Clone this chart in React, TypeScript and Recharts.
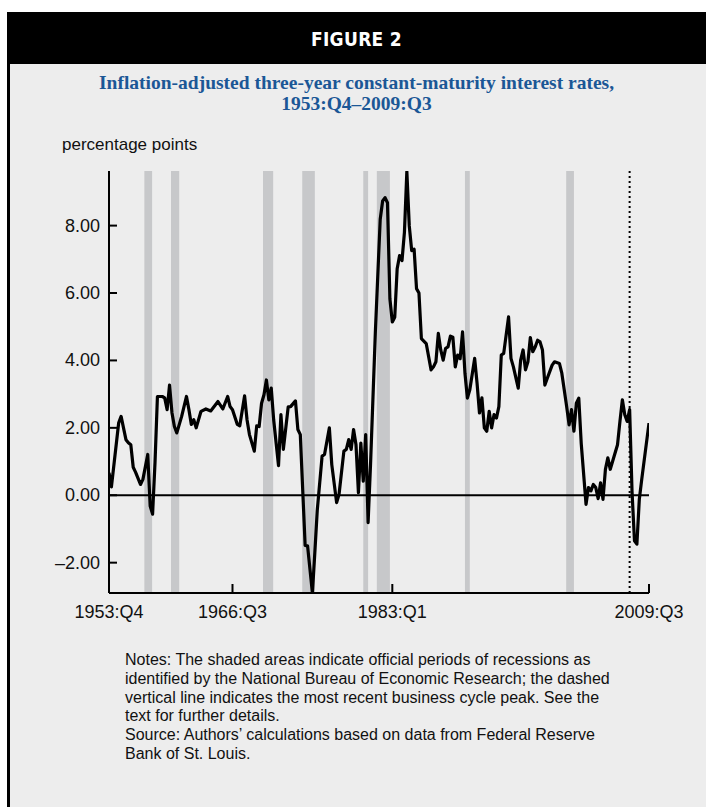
import React from 'react';
import { LineChart, Line, XAxis, YAxis, ReferenceArea, ReferenceLine } from 'recharts';

// Quarterly observations (decimal year: Q1=.00, Q2=.25, Q3=.50, Q4=.75)
const periods = [
  1953.75, 1954.0, 1954.75, 1955.0, 1955.5, 1955.75, 1956.0, 1956.25, 1956.5, 1957.0,
  1957.25, 1957.75, 1958.0, 1958.25, 1958.5, 1958.75, 1959.25, 1959.5, 1959.75, 1960.0,
  1960.25, 1960.5, 1960.75, 1961.25, 1961.75, 1962.0, 1962.25, 1962.5, 1962.75, 1963.25,
  1963.75, 1964.25, 1965.0, 1965.5, 1966.0, 1966.25, 1966.5, 1967.0, 1967.25, 1967.75,
  1968.0, 1968.25, 1968.75, 1969.0, 1969.25, 1969.5, 1969.75, 1970.0, 1970.25, 1970.5,
  1970.75, 1971.25, 1971.5, 1971.75, 1972.25, 1972.5, 1973.0, 1973.25, 1973.5, 1974.0,
  1974.25, 1974.75, 1975.0, 1975.25, 1975.75, 1976.0, 1976.5, 1976.75, 1977.25, 1977.5,
  1978.0, 1978.25, 1978.5, 1978.75, 1979.0, 1979.25, 1979.5, 1979.75, 1980.0, 1980.25,
  1980.5, 1980.75, 1981.25, 1981.75, 1982.0, 1982.25, 1982.5, 1982.75, 1983.0, 1983.25,
  1983.5, 1983.75, 1984.0, 1984.25, 1984.5, 1984.75, 1985.0, 1985.25, 1985.5, 1985.75,
  1986.0, 1986.5, 1987.0, 1987.25, 1987.5, 1987.75, 1988.0, 1988.25, 1988.5, 1988.75,
  1989.0, 1989.25, 1989.5, 1989.75, 1990.0, 1990.25, 1990.5, 1990.75, 1991.0, 1991.5,
  1991.75, 1992.0, 1992.25, 1992.5, 1992.75, 1993.0, 1993.25, 1993.5, 1993.75, 1994.0,
  1994.25, 1994.5, 1995.0, 1995.25, 1995.5, 1996.0, 1996.25, 1996.5, 1996.75, 1997.0,
  1997.25, 1997.5, 1997.75, 1998.0, 1998.25, 1998.5, 1998.75, 1999.0, 1999.5, 1999.75,
  2000.25, 2000.5, 2001.0, 2001.25, 2001.5, 2001.75, 2002.0, 2002.25, 2002.5, 2003.0,
  2003.25, 2003.5, 2003.75, 2004.0, 2004.25, 2004.5, 2004.75, 2005.0, 2005.25, 2005.5,
  2006.25, 2006.5, 2006.75, 2007.0, 2007.25, 2007.5, 2007.75, 2008.0, 2008.25, 2008.5,
  2008.75, 2009.5,
];

// Inflation-adjusted three-year constant-maturity rate, percentage points
const rates = [
  0.67, 0.25, 2.15, 2.34, 1.65, 1.56, 1.5, 0.83, 0.68, 0.32,
  0.47, 1.21, -0.32, -0.56, 0.97, 2.93, 2.93, 2.89, 2.54, 3.27,
  2.45, 2.04, 1.85, 2.34, 2.93, 2.54, 2.1, 2.24, 2.0, 2.49,
  2.56, 2.5, 2.78, 2.56, 2.93, 2.63, 2.54, 2.1, 2.06, 2.95,
  2.24, 1.8, 1.31, 2.06, 2.04, 2.73, 2.98, 3.42, 2.83, 3.18,
  2.24, 0.88, 2.39, 1.36, 2.62, 2.63, 2.8, 1.95, 1.8, -1.49,
  -1.5, -2.9, -1.7, -0.45, 1.16, 1.21, 2.0, 0.91, -0.22, 0.03,
  1.31, 1.36, 1.65, 1.36, 1.95, 1.5, 0.08, 1.55, 0.42, 1.8,
  -0.81, 0.91, 4.85, 8.19, 8.73, 8.83, 8.68, 5.83, 5.14, 5.28,
  6.72, 7.11, 6.96, 7.8, 9.6, 7.99, 7.26, 7.3, 6.13, 6.0,
  4.65, 4.5, 3.72, 3.81, 3.96, 4.8, 4.31, 4.01, 4.36, 4.4,
  4.72, 4.69, 3.81, 4.16, 4.05, 4.85, 3.62, 2.88, 3.13, 4.06,
  3.32, 2.44, 2.89, 2.0, 1.9, 2.49, 2.0, 2.39, 2.29, 2.63,
  4.16, 4.21, 5.29, 4.06, 3.81, 3.18, 4.01, 4.31, 3.72, 3.96,
  4.68, 4.26, 4.4, 4.6, 4.55, 4.31, 3.27, 3.47, 3.86, 3.96,
  3.91, 3.62, 2.63, 2.09, 2.54, 1.9, 2.73, 2.88, 1.55, -0.27,
  0.23, 0.13, 0.32, 0.23, -0.1, 0.37, -0.12, 0.77, 1.11, 0.77,
  1.5, 2.19, 2.83, 2.39, 2.19, 2.54, 0.1, -1.35, -1.45, -0.12,
  0.47, 2.14,
];

// NBER recessions (shaded)
const recessionStarts = [1957.4, 1960.15, 1969.65, 1973.7, 1980.0, 1981.4, 1990.5, 2000.95];
const recessionEnds = [1958.2, 1961.0, 1970.7, 1975.0, 1980.5, 1982.75, 1991.0, 2001.75];

// Most recent business cycle peak (dotted line)
const businessCyclePeak = 2007.5;

const xTickValues = [1953.75, 1966.5, 1983.0, 2009.5];
const xTickLabels = ['1953:Q4', '1966:Q3', '1983:Q1', '2009:Q3'];
const yTickValues = [-2, 0, 2, 4, 6, 8];

const data = periods.map((p, i) => ({ period: p, rate: rates[i] }));

const AXIS_FONT = "'Liberation Sans', Arial, Helvetica, sans-serif";

const YTick = (props: any) => {
  const { x, y, payload } = props;
  const v = payload.value as number;
  const label = v < 0 ? '\u2013' + Math.abs(v).toFixed(2) : v.toFixed(2);
  return (
    <g>
      <line x1={x} x2={x + 8} y1={y} y2={y} stroke="#000" strokeWidth={2} />
      <text x={x - 9} y={y} textAnchor="end" dominantBaseline="central" fontSize={18} fontFamily={AXIS_FONT} fill="#111">
        {label}
      </text>
    </g>
  );
};

const XTick = (props: any) => {
  const { x, y, payload } = props;
  const idx = xTickValues.indexOf(payload.value);
  const label = idx >= 0 ? xTickLabels[idx] : '';
  return (
    <g>
      <line x1={x} x2={x} y1={y} y2={y - 9} stroke="#000" strokeWidth={2} />
      <text x={x} y={y + 25} textAnchor="middle" fontSize={18} fontFamily={AXIS_FONT} fill="#111">
        {label}
      </text>
    </g>
  );
};

const noteLines = [
  'Notes: The shaded areas indicate official periods of recessions as',
  'identified by the National Bureau of Economic Research; the dashed',
  'vertical line indicates the most recent business cycle peak. See the',
  'text for further details.',
  'Source: Authors\u2019 calculations based on data from Federal Reserve',
  'Bank of St. Louis.',
];

export default function App() {
  return (
    <div style={{ position: 'absolute', left: 0, top: 0, width: 706, height: 807, background: '#fff', overflow: 'hidden' }}>
      <div
        style={{
          position: 'absolute',
          left: 7,
          top: 12,
          width: 699,
          height: 795,
          background: '#ededed',
          borderLeft: '3px solid #000',
          boxSizing: 'border-box',
        }}
      />
      <div
        style={{
          position: 'absolute',
          left: 7,
          top: 12,
          width: 699,
          height: 52,
          background: '#000',
          color: '#fff',
          textAlign: 'center',
          lineHeight: '54px',
          fontFamily: "'Liberation Sans Narrow', 'DejaVu Sans Condensed', Arial, sans-serif",
          fontWeight: 900,
          fontSize: 19,
          letterSpacing: 0.3,
        }}
      >
        FIGURE 2
      </div>
      <div
        style={{
          position: 'absolute',
          left: 7,
          top: 72,
          width: 699,
          textAlign: 'center',
          fontFamily: "'Liberation Serif', 'Times New Roman', serif",
          fontWeight: 700,
          fontSize: 19.5,
          lineHeight: '21px',
          color: '#1b5796',
        }}
      >
        Inflation-adjusted three-year constant-maturity interest rates,
        <br />
        1953:Q4–2009:Q3
      </div>
      <div
        style={{
          position: 'absolute',
          left: 62,
          top: 135,
          fontFamily: AXIS_FONT,
          fontSize: 17,
          color: '#111',
          whiteSpace: 'nowrap',
        }}
      >
        percentage points
      </div>
      <div style={{ position: 'absolute', left: 0, top: 0 }}>
        <LineChart width={706} height={640} data={data} margin={{ top: 171, right: 57, bottom: 17, left: 49 }}>
          <XAxis
            dataKey="period"
            type="number"
            domain={[1953.75, 2009.5]}
            ticks={xTickValues}
            tick={<XTick />}
            tickSize={0}
            tickMargin={0}
            tickLine={false}
            axisLine={{ stroke: '#000', strokeWidth: 2 }}
            height={30}
            interval={0}
            allowDataOverflow
          />
          <YAxis
            type="number"
            domain={[-2.9, 9.62]}
            ticks={yTickValues}
            tick={<YTick />}
            tickSize={0}
            tickMargin={0}
            tickLine={false}
            axisLine={{ stroke: '#000', strokeWidth: 2 }}
            width={60}
            interval={0}
            allowDataOverflow
          />
          {recessionStarts.map((s, i) => (
            <ReferenceArea
              key={'r' + i}
              x1={s}
              x2={recessionEnds[i]}
              y1={-2.9}
              y2={9.62}
              fill="#c7c8ca"
              fillOpacity={1}
              stroke="none"
            />
          ))}
          <ReferenceLine y={0} stroke="#000" strokeWidth={2} />
          <ReferenceLine x={businessCyclePeak} stroke="#000" strokeWidth={2} strokeDasharray="2 3" />
          <Line
            type="linear"
            dataKey="rate"
            stroke="#000"
            strokeWidth={3.2}
            dot={false}
            isAnimationActive={false}
            strokeLinejoin="round"
          />
        </LineChart>
      </div>
      <div
        style={{
          position: 'absolute',
          left: 125,
          top: 651,
          fontFamily: AXIS_FONT,
          fontSize: 16,
          lineHeight: '18.8px',
          color: '#111',
          whiteSpace: 'nowrap',
        }}
      >
        {noteLines.map((l, i) => (
          <div key={i}>{l}</div>
        ))}
      </div>
    </div>
  );
}
